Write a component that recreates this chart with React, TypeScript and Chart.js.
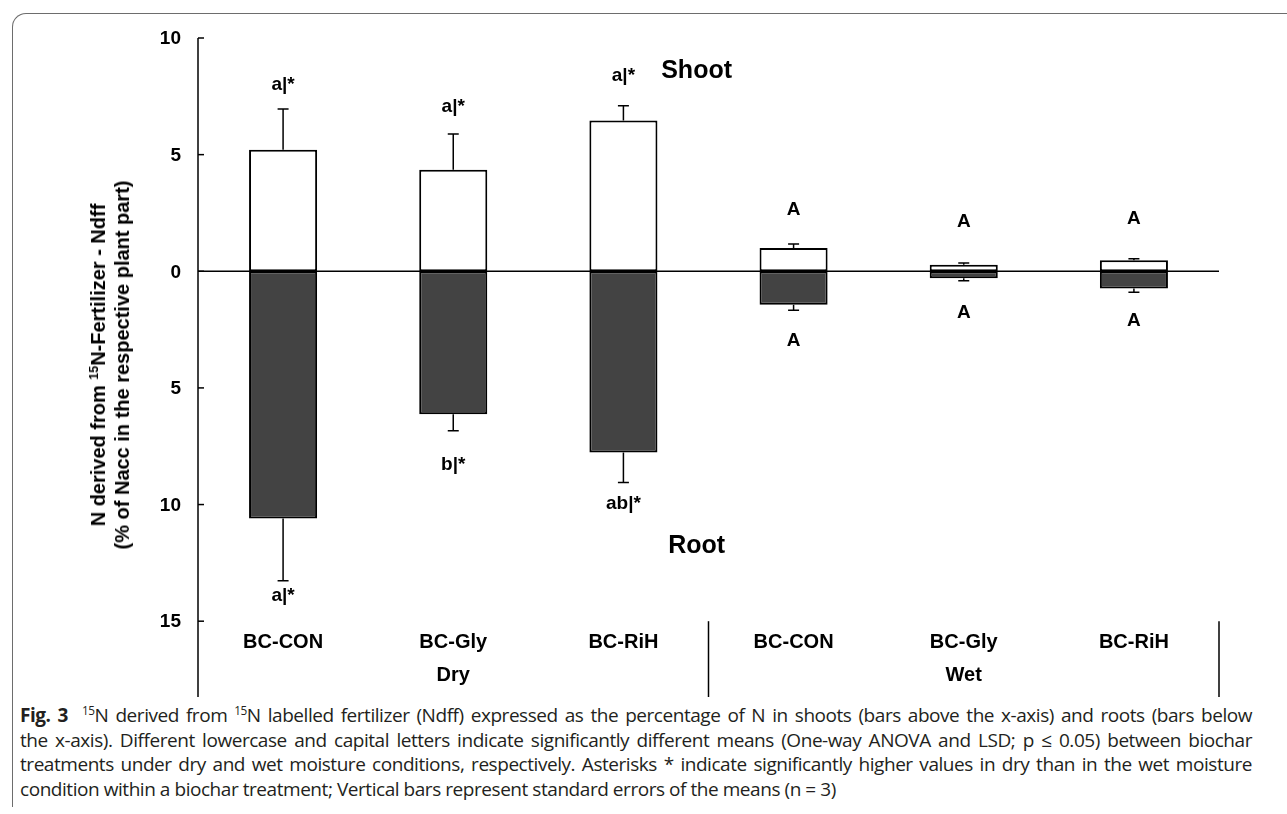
import React, { useEffect, useRef } from "react";
import { Chart, registerables } from "chart.js";

Chart.register(...registerables);

// ---------- data ----------
const categories = ["BC-CON", "BC-Gly", "BC-RiH", "BC-CON", "BC-Gly", "BC-RiH"];
const groups = ["Dry", "Wet"];
const shootNdff = [5.21, 4.35, 6.46, 1.0, 0.28, 0.47];
const shootSE = [1.75, 1.54, 0.64, 0.17, 0.08, 0.07];
const rootNdff = [-10.6, -6.13, -7.77, -1.44, -0.3, -0.74];
const rootSE = [2.67, 0.71, 1.28, 0.23, 0.11, 0.16];
const shootLetters = ["a|*", "a|*", "a|*", "A", "A", "A"];
const rootLetters = ["a|*", "b|*", "ab|*", "A", "A", "A"];
const shootLetterAt = [7.99, 7.05, 8.37, 2.64, 2.12, 2.25];
const rootLetterAt = [-13.9, -8.3, -9.95, -2.97, -1.78, -2.11];
const yTicks = [10, 5, 0, -5, -10, -15];
const partLabels = ["Shoot", "Root"];
const partLabelAt = [8.57, -11.8];
const partLabelCategory = 2.43;

const FONT = '"Liberation Sans", Arial, Helvetica, sans-serif';

const annotate = {
  id: "annotate",
  afterDatasetsDraw(chart: any) {
    const ctx = chart.ctx;
    const x = chart.scales.x;
    const y = chart.scales.y;
    const area = chart.chartArea;
    ctx.save();
    ctx.strokeStyle = "#000";
    ctx.fillStyle = "#000";

    // error bars
    ctx.lineWidth = 1.5;
    const cap = 5.5;
    const drawErr = (vals: number[], se: number[], sign: number) => {
      vals.forEach((v, i) => {
        const cx = x.getPixelForValue(i);
        const y0 = y.getPixelForValue(v);
        const y1 = y.getPixelForValue(v + sign * se[i]);
        ctx.beginPath();
        ctx.moveTo(cx, y0);
        ctx.lineTo(cx, y1);
        ctx.moveTo(cx - cap, y1);
        ctx.lineTo(cx + cap, y1);
        ctx.stroke();
      });
    };
    drawErr(shootNdff, shootSE, 1);
    drawErr(rootNdff, rootSE, -1);

    // zero line
    const yz = y.getPixelForValue(0);
    ctx.lineWidth = 1.5;
    ctx.beginPath();
    ctx.moveTo(area.left, yz);
    ctx.lineTo(area.right, yz);
    ctx.stroke();

    // y axis line + inward ticks + labels
    ctx.beginPath();
    ctx.moveTo(area.left, area.top);
    ctx.lineTo(area.left, area.bottom);
    ctx.stroke();
    ctx.font = "bold 19px " + FONT;
    ctx.textAlign = "right";
    ctx.textBaseline = "middle";
    yTicks.forEach((t) => {
      const py = y.getPixelForValue(t);
      ctx.beginPath();
      ctx.moveTo(area.left, py);
      ctx.lineTo(area.left + 6, py);
      ctx.stroke();
      ctx.fillText(String(Math.abs(t)), area.left - 17, py + 1);
    });

    // category labels
    const yBottomTick = y.getPixelForValue(-15);
    ctx.font = "bold 20px " + FONT;
    ctx.textAlign = "center";
    categories.forEach((c, i) => {
      ctx.fillText(c, x.getPixelForValue(i), yBottomTick + 21);
    });
    // group labels
    groups.forEach((g, gi) => {
      ctx.fillText(g, x.getPixelForValue(gi * 3 + 1), yBottomTick + 54);
    });
    // separators
    const sepX = (x.getPixelForValue(2) + x.getPixelForValue(3)) / 2;
    ctx.lineWidth = 1.5;
    [sepX, area.right].forEach((sx) => {
      ctx.beginPath();
      ctx.moveTo(sx, yBottomTick);
      ctx.lineTo(sx, area.bottom);
      ctx.stroke();
    });

    // significance letters
    ctx.font = "bold 19px " + FONT;
    shootLetters.forEach((l, i) => {
      ctx.fillText(l, x.getPixelForValue(i), y.getPixelForValue(shootLetterAt[i]));
    });
    rootLetters.forEach((l, i) => {
      ctx.fillText(l, x.getPixelForValue(i), y.getPixelForValue(rootLetterAt[i]));
    });

    // Shoot / Root
    const base = Math.floor(partLabelCategory);
    const frac = partLabelCategory - base;
    const px = x.getPixelForValue(base) + frac * (x.getPixelForValue(base + 1) - x.getPixelForValue(base));
    ctx.font = "bold 25px " + FONT;
    partLabels.forEach((p, i) => {
      ctx.fillText(p, px, y.getPixelForValue(partLabelAt[i]));
    });
    ctx.restore();
  },
};

export default function App() {
  const ref = useRef<HTMLCanvasElement | null>(null);

  useEffect(() => {
    if (!ref.current) return;
    const chart = new Chart(ref.current, {
      type: "bar",
      data: {
        labels: categories,
        datasets: [
          {
            label: "Shoot",
            data: shootNdff,
            backgroundColor: "#ffffff",
            borderColor: "#000000",
            borderWidth: 2,
            borderSkipped: false,
            barPercentage: 0.4,
            categoryPercentage: 1,
          },
          {
            label: "Root",
            data: rootNdff,
            backgroundColor: "#434343",
            borderColor: "#000000",
            borderWidth: 2,
            borderSkipped: false,
            barPercentage: 0.4,
            categoryPercentage: 1,
          },
        ],
      },
      options: {
        responsive: false,
        animation: false,
        devicePixelRatio: 1,
        layout: { padding: { left: 198, right: 68, top: 38, bottom: 3 } },
        plugins: { legend: { display: false }, tooltip: { enabled: false } },
        scales: {
          x: { type: "category", stacked: true, display: false, offset: true },
          y: { stacked: true, display: false, min: -18.25, max: 10 },
        },
      },
      plugins: [annotate],
    });
    return () => chart.destroy();
  }, []);

  const sup: React.CSSProperties = { fontSize: "0.62em", verticalAlign: "0.6em", lineHeight: 0 };
  const capLine: React.CSSProperties = {
    width: 1232,
    textAlign: "justify",
    textAlignLast: "justify" as any,
    whiteSpace: "nowrap",
    height: 24.5,
  };

  return (
    <div
      style={{
        position: "fixed",
        left: 0,
        top: 0,
        width: 1287,
        height: 814,
        background: "#fff",
        overflow: "hidden",
      }}
    >
      <div
        style={{
          position: "absolute",
          left: 12,
          top: 13,
          width: 1400,
          height: 793,
          borderTop: "1.5px solid #6d6d6d",
          borderLeft: "1.5px solid #6d6d6d",
          borderTopLeftRadius: 14,
        }}
      />
      <canvas
        ref={ref}
        width={1287}
        height={700}
        style={{ position: "absolute", left: 0, top: 0, width: 1287, height: 700 }}
      />
      <div
        style={{
          position: "absolute",
          left: 110,
          top: 365,
          transform: "translate(-50%, -50%) rotate(-90deg)",
          whiteSpace: "nowrap",
          textAlign: "center",
          font: "bold 20px " + FONT,
          lineHeight: "24px",
          color: "#000",
        }}
      >
        <div>
          N derived from <span style={sup}>15</span>N-Fertilizer - Ndff
        </div>
        <div>(% of Nacc in the respective plant part)</div>
      </div>
      <div
        style={{
          position: "absolute",
          left: 20,
          top: 703,
          fontFamily: '"Open Sans", "Noto Sans", sans-serif',
          fontSize: 19,
          lineHeight: "24.5px",
          color: "#231f20",
          letterSpacing: "-0.45px",
        }}
      >
        <div style={capLine}>
          <b>Fig. 3</b>&nbsp;&nbsp;<span style={sup}>15</span>N derived from <span style={sup}>15</span>N labelled
          fertilizer (Ndff) expressed as the percentage of N in shoots (bars above the x-axis) and roots (bars below
        </div>
        <div style={capLine}>
          the x-axis). Different lowercase and capital letters indicate significantly different means (One-way ANOVA and
          LSD; p ≤ 0.05) between biochar
        </div>
        <div style={capLine}>
          treatments under dry and wet moisture conditions, respectively. Asterisks * indicate significantly higher values
          in dry than in the wet moisture
        </div>
        <div style={{ whiteSpace: "nowrap", height: 24.5 }}>
          condition within a biochar treatment; Vertical bars represent standard errors of the means (n = 3)
        </div>
      </div>
    </div>
  );
}
